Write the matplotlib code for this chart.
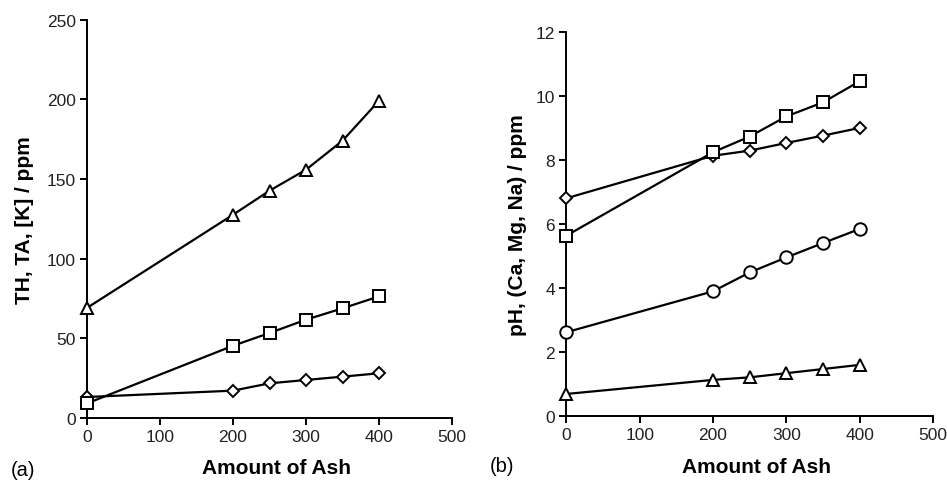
import matplotlib.pyplot as plt

plt.rcParams['font.family'] = ['Liberation Sans', 'DejaVu Sans']

ash = [0, 200, 250, 300, 350, 400]

# panel (a): TH, TA, [K]
a_triangle = [69, 127.5, 142.6, 155.8, 174, 199.1]
a_square = [9, 45.2, 53.2, 61.6, 68.7, 76.2]
a_diamond = [13, 17, 21.6, 23.7, 25.8, 27.9]

# panel (b): pH, Ca, Mg, Na
b_square = [5.64, 8.25, 8.74, 9.37, 9.81, 10.47]
b_diamond = [6.81, 8.14, 8.3, 8.54, 8.77, 9.01]
b_circle = [2.62, 3.9, 4.49, 4.96, 5.41, 5.85]
b_triangle = [0.69, 1.13, 1.21, 1.34, 1.47, 1.6]

x_ticks = [0, 100, 200, 300, 400, 500]
a_yticks = [0, 50, 100, 150, 200, 250]
b_yticks = [0, 2, 4, 6, 8, 10, 12]


def series(ax, y, marker, ms):
    ax.plot(ash, y, color='black', lw=1.6, marker=marker, ms=ms,
            mfc='white', mec='black', mew=1.4, clip_on=False, zorder=3)


def style(ax, ylabel, yticks, tag, ypad):
    for s in ['top', 'right']:
        ax.spines[s].set_visible(False)
    for s in ['left', 'bottom']:
        ax.spines[s].set_linewidth(1.4)
    ax.set_xlim(0, 500)
    ax.set_ylim(yticks[0], yticks[-1])
    ax.set_xticks(x_ticks)
    ax.set_yticks(yticks)
    ax.tick_params(direction='out', length=5, width=1.4, labelsize=12.5,
                   labelcolor='#222222', pad=3)
    ax.set_xlabel('Amount of Ash', fontsize=15, fontweight='bold', labelpad=10.5)
    ax.xaxis.label.set_x(0.52)
    ax.set_ylabel(ylabel, fontsize=15, fontweight='bold', labelpad=ypad)
    ax.text(-0.21, -0.13, tag, transform=ax.transAxes, fontsize=14.5,
            ha='left', va='center')


fig = plt.figure(figsize=(9.47, 4.81), dpi=100)
ax1 = fig.add_axes([0.0919, 0.1295, 0.3854, 0.8274])
ax2 = fig.add_axes([0.598, 0.133, 0.3872, 0.7977])

series(ax1, a_diamond, 'D', 6)
series(ax1, a_square, 's', 8.5)
series(ax1, a_triangle, '^', 9)
style(ax1, 'TH, TA, [K] / ppm', a_yticks, '(a)', 9)

series(ax2, b_diamond, 'D', 6)
series(ax2, b_square, 's', 8.5)
series(ax2, b_circle, 'o', 9)
series(ax2, b_triangle, '^', 9)
style(ax2, 'pH, (Ca, Mg, Na) / ppm', b_yticks, '(b)', 6)

fig.savefig('out.png', dpi=100)
